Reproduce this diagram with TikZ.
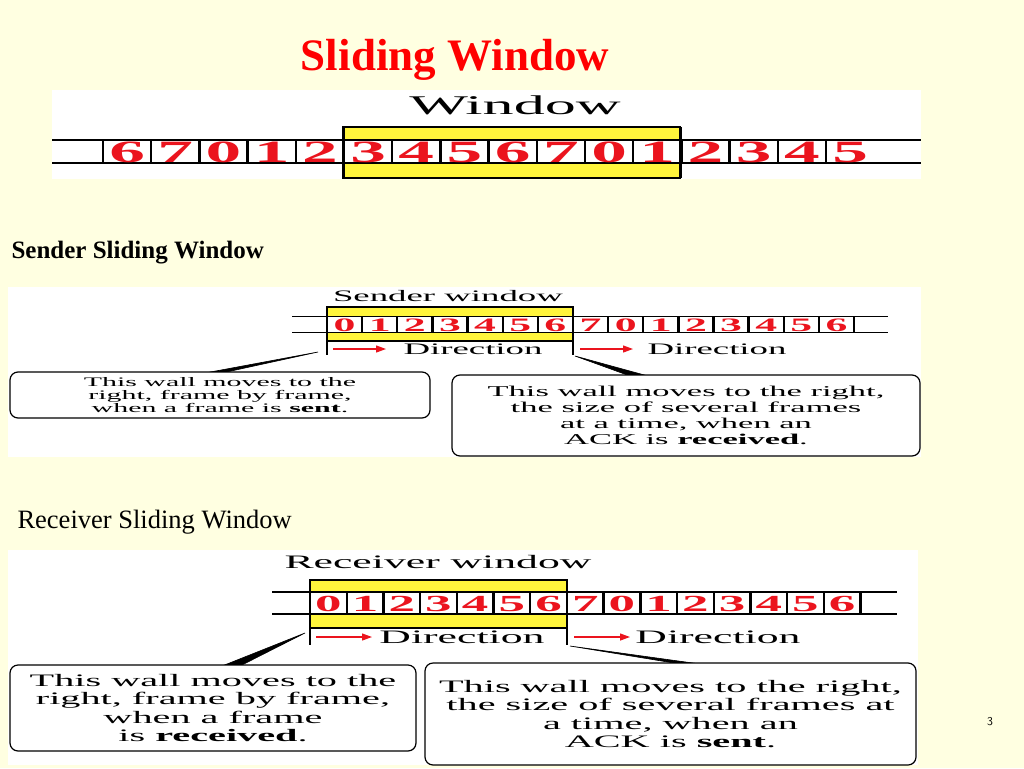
\documentclass[tikz,border=0pt]{standalone}
\usepackage{fontspec}
\setmainfont{Liberation Serif}
\newfontfamily\wide[FakeStretch=2.3]{Liberation Serif}
\usetikzlibrary{arrows.meta}
\definecolor{bg}{RGB}{255,255,225}
\definecolor{winy}{RGB}{255,245,60}
\definecolor{numred}{RGB}{235,20,30}
\newcommand\fs[1]{\fontsize{#1}{#1}\selectfont}
\newcommand\fsl[2]{\fontsize{#1}{#2}\selectfont}
\newcommand\cellrow[6]{%
  \foreach \d [count=\i from 0] in {#5} {
    \node[text=numred, inner sep=0pt, font=\wide\bfseries\fs{#6}] at ({#1+(\i+0.5)*#2},{(#3+#4)/2+1}) {\d};
    \draw[line width=2.4pt] ({#1+\i*#2},#3) -- ({#1+\i*#2},#4);
  }
  \draw[line width=2.4pt] ({#1+15*#2},#3) -- ({#1+15*#2},#4);
}
\tikzset{
  panel/.style={fill=white, draw=none},
  callout/.style={draw=black, line width=1.2pt, rounded corners=8pt, fill=white},
  ctext/.style={align=center, inner sep=0pt},
  dirarrow/.style={numred, line width=1.2pt, -{Triangle[length=10pt,width=7pt]}},
  wedge/.style={fill=black, draw=black, line width=0.6pt}
}
\begin{document}
\begin{tikzpicture}[x=1pt,y=-1pt]
\useasboundingbox (0,0) rectangle (1024,768);
\fill[bg] (0,0) rectangle (1024,768);
\node[text=red, font=\bfseries\fs{45}] (title) at (455,60) {Sliding Window};
% ---------- top strip
\fill[panel] (52,90) rectangle (921,179);
\node[font=\wide\fs{27}] (win) at (515,105) {Window};
\draw[fill=winy, line width=2.6pt] (343,127) rectangle (680,178);
\fill[white] (52,140) rectangle (921,163);
\draw[line width=2pt] (52,140) -- (921,140) (52,163) -- (921,163);
\cellrow{103}{48.2}{140}{163}{6,7,0,1,2,3,4,5,6,7,0,1,2,3,4,5}{31}
\draw[line width=3pt] (343,127) -- (343,178) (680,127) -- (680,178);
% ---------- sender
\node[anchor=west, font=\bfseries\fs{25}] (stitle) at (8,253) {Sender Sliding Window};
\fill[panel] (8,287) rectangle (921,457);
\node[font=\wide\fs{16}] (sw) at (448,296) {Sender window};
\draw[fill=winy, line width=1.6pt] (327,307) rectangle (573,341);
\fill[white] (327,316) rectangle (855,332);
\draw[line width=1pt] (292,316) -- (888,316) (292,332) -- (888,332);
\cellrow{327}{35.14}{316}{332}{0,1,2,3,4,5,6,7,0,1,2,3,4,5,6}{19}
\draw[line width=2pt] (327,307) -- (327,355) (573,307) -- (573,355);
\draw[dirarrow] (333,349) -- (386,349);
\node[font=\wide\fs{16}] (sd1) at (473,349) {Direction};
\draw[dirarrow] (580,349) -- (633,349);
\node[font=\wide\fs{16}] (sd2) at (717,349) {Direction};
\draw[wedge] (205,373) -- (318,352) -- (222,373) -- cycle;
\draw[wedge] (575,356) -- (648,376) -- (630,376) -- cycle;
\node[callout, minimum width=420pt, minimum height=46pt] (sl) at (220,395) {};
\node[ctext, font=\wide\fsl{13}{13.2}] at (sl) {This wall moves to the\\right, frame by frame,\\when a frame is \textbf{sent}.};
\node[callout, minimum width=468pt, minimum height=81pt] (sr) at (686,415.5) {};
\node[ctext, font=\wide\fsl{15}{16.2}] at (sr) {This wall moves to the right,\\the size of several frames\\at a time, when an\\ACK is \textbf{received}.};
% ---------- receiver
\node[anchor=west, font=\fs{26.5}] (rtitle) at (14,522) {Receiver Sliding Window};
\fill[panel] (8,550) rectangle (918,765);
\node[font=\wide\fs{19}] (rw) at (438,562) {Receiver window};
\draw[fill=winy, line width=1.8pt] (310,580) rectangle (567,628);
\fill[white] (310,592) rectangle (862,614);
\draw[line width=1.2pt] (272,592) -- (897,592) (272,614) -- (897,614);
\cellrow{310}{36.7}{592}{614}{0,1,2,3,4,5,6,7,0,1,2,3,4,5,6}{23}
\draw[line width=2.2pt] (310,580) -- (310,645) (567,580) -- (567,645);
\draw[dirarrow] (316,637) -- (372,637);
\node[font=\wide\fs{19}] (rd1) at (462,637) {Direction};
\draw[dirarrow] (574,637) -- (630,637);
\node[font=\wide\fs{19}] (rd2) at (718,637) {Direction};
\draw[wedge] (222,666) -- (305,633) -- (240,666) -- cycle;
\draw[wedge] (570,646) -- (700,664) -- (680,664) -- cycle;
\node[callout, minimum width=406pt, minimum height=86pt] (rl) at (213,708) {};
\node[ctext, font=\wide\fsl{17.5}{18.3}] at (rl) {This wall moves to the\\right, frame by frame,\\when a frame\\is \textbf{received}.};
\node[callout, minimum width=491pt, minimum height=102pt] (rr) at (670.5,714) {};
\node[ctext, font=\wide\fsl{17.5}{18.3}] at (rr) {This wall moves to the right,\\the size of several frames at\\a time, when an\\ACK is \textbf{sent}.};
\node[font=\sffamily\fs{12}] (pg) at (990,722) {3};
\end{tikzpicture}
\end{document}
